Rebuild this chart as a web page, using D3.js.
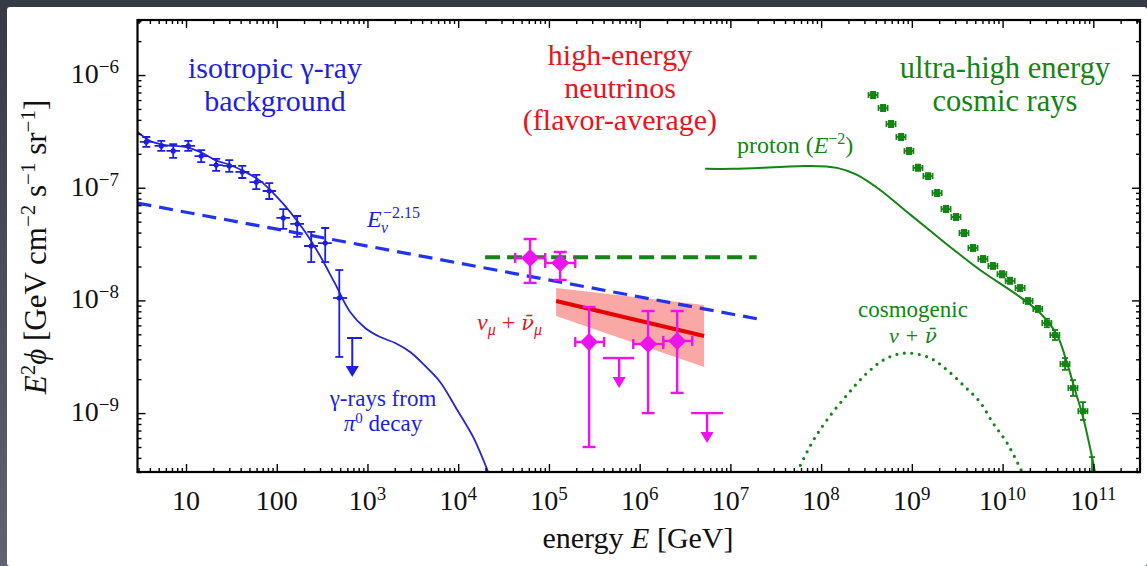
<!DOCTYPE html>
<html>
<head>
<meta charset="utf-8">
<script src="https://cdn.jsdelivr.net/npm/d3@7"></script>
<style>
  body { margin: 0; background: #fff; }
  svg { display: block; }
  text { font-family: "Liberation Serif", "Times New Roman", serif; }
  .bar { font-family: "DejaVu Serif", serif; }
</style>
</head>
<body>
<script>
// energies in GeV, fluxes as E^2 phi in GeV cm^-2 s^-1 sr^-1

// isotropic gamma-ray background points: [E, Elo, Ehi, flux, fluxLo, fluxHi]
var igrbPoints = [
  [3.65, 3.1, 4.3, 2.55e-7, 2.30e-7, 2.82e-7],
  [5.34, 4.5, 6.3, 2.35e-7, 2.12e-7, 2.60e-7],
  [7.23, 6.1, 8.6, 2.12e-7, 1.84e-7, 2.44e-7],
  [10.6, 8.9, 12.6, 2.35e-7, 2.12e-7, 2.60e-7],
  [14.7, 12.4, 17.5, 1.91e-7, 1.69e-7, 2.16e-7],
  [21.5, 18.0, 25.5, 1.59e-7, 1.41e-7, 1.80e-7],
  [30.0, 25.3, 35.6, 1.56e-7, 1.38e-7, 1.76e-7],
  [41.7, 35.0, 50.0, 1.38e-7, 1.22e-7, 1.56e-7],
  [59.5, 50.0, 71.0, 1.12e-7, 9.73e-8, 1.30e-7],
  [82.7, 70.0, 98.0, 9.35e-8, 7.94e-8, 1.10e-7],
  [118, 99, 140, 5.39e-8, 4.31e-8, 6.47e-8],
  [168, 141, 200, 4.77e-8, 3.66e-8, 5.61e-8],
  [240, 200, 285, 3.04e-8, 2.19e-8, 4.05e-8],
  [342, 285, 405, 3.23e-8, 2.19e-8, 4.39e-8],
  [489, 418, 596, 1.05e-8, 3.15e-9, 1.86e-8]
];
// upper limits: [E, Elo, Ehi, flux]
var igrbLimits = [[680, 596, 872, 4.64e-9]];

// gamma-rays from pi0 decay
var pionCurve = [
  [2.92, 3.12e-7], [4.04, 2.60e-7], [5.91, 2.39e-7], [9.81, 2.30e-7], [14.4, 2.07e-7],
  [21.0, 1.76e-7], [30.7, 1.59e-7], [45.0, 1.38e-7], [65.8, 1.15e-7], [96.2, 8.6e-8],
  [141, 6.08e-8], [206, 4.05e-8], [301, 2.48e-8], [441, 1.40e-8], [644, 7.89e-9],
  [944, 5.69e-9], [1380, 4.73e-9], [2020, 4.19e-9], [2960, 3.48e-9], [4320, 2.62e-9],
  [6320, 1.89e-9], [9730, 1.07e-9], [1.46e4, 6.14e-10], [2.14e4, 3.0e-10]
];

// E^-2.15 neutrino spectrum
var nuPowerLaw = [[2.92, 7.3e-8], [2.1e7, 6.8e-9]];
// flat green dashed bound
var flatBound = [[1.98e4, 2.42e-8], [1.95e7, 2.42e-8]];

// IceCube flavor-average points: [E, Elo, Ehi, flux, fluxLo, fluxHi]
var icPoints = [
  [6.2e4, 4.25e4, 9.1e4, 2.38e-8, 1.43e-8, 3.51e-8],
  [1.33e5, 9.1e4, 1.95e5, 2.15e-8, 1.52e-8, 2.69e-8],
  [2.77e5, 1.95e5, 4.06e5, 4.28e-9, 5.0e-10, 8.73e-9],
  [1.24e6, 8.5e5, 1.82e6, 4.1e-9, 1.0e-9, 8.05e-9],
  [2.59e6, 1.82e6, 3.8e6, 4.37e-9, 1.51e-9, 8.05e-9]
];
var icLimits = [
  [5.94e5, 3.95e5, 8.7e5, 3.08e-9],
  [5.53e6, 3.69e6, 8.3e6, 1.0e-9]
];

// nu_mu + anti-nu_mu fit: band [E, lo, hi] and best fit [E, flux]
var numuBand = [[1.2e5, 7.27e-9, 1.29e-8], [5.13e6, 2.57e-9, 9.1e-9]];
var numuFit = [[1.2e5, 9.88e-9], [5.13e6, 4.83e-9]];

// UHE proton model (E^-2 injection)
var protonCurve = [
  [5.27e6, 1.47e-7], [1.07e7, 1.47e-7], [3.53e7, 1.53e-7], [7.0e7, 1.56e-7],
  [1.5e8, 1.50e-7], [2.49e8, 1.30e-7], [4.47e8, 9.55e-8], [8.87e8, 6.08e-8],
  [1.71e9, 3.96e-8], [2.92e9, 2.80e-8], [5.65e9, 1.86e-8], [1.56e10, 1.07e-8],
  [2.59e10, 7.73e-9], [3.98e10, 4.93e-9], [5.13e10, 2.79e-9], [6.29e10, 1.60e-9],
  [7.7e10, 9.23e-10], [9.68e10, 4.07e-10], [1.04e11, 3.0e-10]
];

// cosmogenic neutrinos
var cosmoCurve = [
  [5.43e7, 3.0e-10], [8.13e7, 5.65e-10], [1.16e8, 8.69e-10], [1.93e8, 1.45e-9],
  [3.21e8, 2.27e-9], [5.33e8, 3.08e-9], [8.85e8, 3.41e-9], [1.59e9, 3.08e-9],
  [2.44e9, 2.41e-9], [3.85e9, 1.71e-9], [5.64e9, 1.25e-9], [7.84e9, 8.16e-10],
  [1.12e10, 5.43e-10], [1.64e10, 3.0e-10]
];

// UHECR data: [E, Elo, Ehi, flux, fluxLo, fluxHi]
var uhecrPoints = [
  [3.74e8, 3.33e8, 4.19e8, 6.65e-7, 6.25e-7, 7.08e-7],
  [4.82e8, 4.29e8, 5.40e8, 5.09e-7, 4.79e-7, 5.42e-7],
  [5.90e8, 5.25e8, 6.61e8, 3.67e-7, 3.45e-7, 3.91e-7],
  [7.60e8, 6.76e8, 8.51e8, 2.82e-7, 2.65e-7, 3.00e-7],
  [9.31e8, 8.29e8, 1.04e9, 2.12e-7, 1.99e-7, 2.26e-7],
  [1.17e9, 1.04e9, 1.31e9, 1.50e-7, 1.41e-7, 1.60e-7],
  [1.51e9, 1.34e9, 1.69e9, 1.27e-7, 1.19e-7, 1.35e-7],
  [1.90e9, 1.69e9, 2.13e9, 8.97e-8, 8.43e-8, 9.55e-8],
  [2.38e9, 2.12e9, 2.67e9, 6.47e-8, 6.08e-8, 6.89e-8],
  [3.07e9, 2.73e9, 3.44e9, 5.50e-8, 5.17e-8, 5.86e-8],
  [3.76e9, 3.35e9, 4.21e9, 3.96e-8, 3.72e-8, 4.22e-8],
  [4.72e9, 4.20e9, 5.29e9, 2.92e-8, 2.74e-8, 3.11e-8],
  [6.08e9, 5.41e9, 6.81e9, 2.33e-8, 2.19e-8, 2.48e-8],
  [7.83e9, 6.97e9, 8.77e9, 2.02e-8, 1.90e-8, 2.15e-8],
  [9.86e9, 8.78e9, 1.10e10, 1.71e-8, 1.60e-8, 1.82e-8],
  [1.21e10, 1.08e10, 1.36e10, 1.49e-8, 1.40e-8, 1.59e-8],
  [1.56e10, 1.39e10, 1.75e10, 1.29e-8, 1.21e-8, 1.37e-8],
  [1.91e10, 1.70e10, 2.14e10, 9.89e-9, 9.29e-9, 1.05e-8],
  [2.45e10, 2.18e10, 2.74e10, 8.39e-9, 7.88e-9, 8.94e-9],
  [3.08e10, 2.74e10, 3.45e10, 6.30e-9, 5.78e-9, 6.87e-9],
  [3.78e10, 3.36e10, 4.23e10, 4.93e-9, 4.45e-9, 5.46e-9],
  [4.88e10, 4.34e10, 5.47e10, 2.73e-9, 2.42e-9, 3.08e-9],
  [5.97e10, 5.31e10, 6.69e10, 1.67e-9, 1.42e-9, 1.96e-9],
  [7.69e10, 6.84e10, 8.61e10, 1.04e-9, 8.69e-10, 1.25e-9],
  [9.68e10, 8.62e10, 1.08e11, 2.08e-10, 1.0e-10, 4.07e-10]
];

// axis tick labels
var xTickExp = [1, 2, 3, 4, 5, 6, 7, 8, 9, 10, 11];
var yTickExp = [-6, -7, -8, -9];

var W = 1147, H = 566;
var plot = {left: 137.5, right: 1140, top: 20, bottom: 472};

var blue = "#1e1ee0", red = "#e8141e", green = "#148414", magenta = "#ee12ee";

var x = d3.scaleLog().domain([2.92, 3.27e11]).range([plot.left, plot.right]);
var y = d3.scaleLog().domain([3.0e-10, 3.08e-6]).range([plot.bottom, plot.top]);

var svg = d3.select("body").append("svg")
    .attr("width", W)
    .attr("height", H)
    .attr("font-family", "Liberation Serif, Times New Roman, serif");

// dark frame of the screenshot
var grad = svg.append("defs").append("linearGradient")
    .attr("id", "bg").attr("x1", 0).attr("y1", 0).attr("x2", 0).attr("y2", 1);
grad.append("stop").attr("offset", "0%").attr("stop-color", "#363a45");
grad.append("stop").attr("offset", "100%").attr("stop-color", "#60646e");
svg.append("rect").attr("width", W).attr("height", H).attr("fill", "url(#bg)");
svg.append("rect").attr("x", 7).attr("y", 7).attr("width", W - 7).attr("height", H - 7)
    .attr("rx", 3).attr("fill", "#fff");

svg.select("defs").append("clipPath").attr("id", "clip")
  .append("rect")
    .attr("x", plot.left).attr("y", plot.top)
    .attr("width", plot.right - plot.left).attr("height", plot.bottom - plot.top);

var g = svg.append("g").attr("clip-path", "url(#clip)");

var line = d3.line()
    .x(function(d) { return x(d[0]); })
    .y(function(d) { return y(d[1]); });
var smooth = d3.line()
    .x(function(d) { return x(d[0]); })
    .y(function(d) { return y(d[1]); })
    .curve(d3.curveCatmullRom.alpha(0.5));

// nu_mu band and fit
var area = d3.area()
    .x(function(d) { return x(d[0]); })
    .y0(function(d) { return y(d[1]); })
    .y1(function(d) { return y(d[2]); });
g.append("path").datum(numuBand).attr("d", area).attr("fill", "#f9a8a6");
g.append("path").datum(numuFit).attr("d", line)
    .attr("fill", "none").attr("stroke", "#e80000").attr("stroke-width", 4);

// dashed lines
g.append("path").datum(nuPowerLaw).attr("d", line)
    .attr("fill", "none").attr("stroke", "#2233ee").attr("stroke-width", 3.2)
    .attr("stroke-dasharray", "14,8");
g.append("path").datum(flatBound).attr("d", line)
    .attr("fill", "none").attr("stroke", green).attr("stroke-width", 4)
    .attr("stroke-dasharray", "15,7");

// model curves
g.append("path").datum(pionCurve).attr("d", smooth)
    .attr("fill", "none").attr("stroke", "#2424d0").attr("stroke-width", 1.8);
g.append("path").datum(protonCurve).attr("d", smooth)
    .attr("fill", "none").attr("stroke", green).attr("stroke-width", 2);
g.append("path").datum(cosmoCurve).attr("d", smooth)
    .attr("fill", "none").attr("stroke", green).attr("stroke-width", 3.2)
    .attr("stroke-linecap", "round").attr("stroke-dasharray", "0,7.5");

// error bar helper
function errorBars(data, color, width, cap, hcap) {
  var eb = g.append("g").attr("stroke", color).attr("stroke-width", width).attr("fill", "none");
  data.forEach(function(d) {
    var cx = x(d[0]), cy = y(d[3]);
    eb.append("line").attr("x1", x(d[1])).attr("x2", x(d[2])).attr("y1", cy).attr("y2", cy);
    eb.append("line").attr("x1", cx).attr("x2", cx).attr("y1", y(d[4])).attr("y2", y(d[5]));
    [d[4], d[5]].forEach(function(v) {
      eb.append("line").attr("x1", cx - cap).attr("x2", cx + cap).attr("y1", y(v)).attr("y2", y(v));
    });
    if (hcap) {
      [d[1], d[2]].forEach(function(v) {
        eb.append("line").attr("x1", x(v)).attr("x2", x(v)).attr("y1", cy - hcap).attr("y2", cy + hcap);
      });
    }
  });
}
function upperLimits(data, color, width, drop, head) {
  var ul = g.append("g").attr("stroke", color).attr("stroke-width", width).attr("fill", color);
  data.forEach(function(d) {
    var cx = x(d[0]), cy = y(d[3]);
    ul.append("line").attr("x1", x(d[1])).attr("x2", x(d[2])).attr("y1", cy).attr("y2", cy);
    ul.append("line").attr("x1", cx).attr("x2", cx).attr("y1", cy).attr("y2", cy + drop - head);
    ul.append("path").attr("stroke", "none")
      .attr("d", "M" + (cx - head * 0.6) + "," + (cy + drop - head) + "L" + (cx + head * 0.6) + "," +
        (cy + drop - head) + "L" + cx + "," + (cy + drop) + "Z");
  });
}

// gamma-ray data
errorBars(igrbPoints, blue, 1.8, 4, 0);
g.append("g").selectAll("circle").data(igrbPoints).enter().append("circle")
    .attr("cx", function(d) { return x(d[0]); })
    .attr("cy", function(d) { return y(d[3]); })
    .attr("r", 2.6).attr("fill", blue);
upperLimits(igrbLimits, blue, 2, 39, 11);

// neutrino data
errorBars(icPoints, magenta, 2.4, 6.5, 5);
g.append("g").selectAll("path").data(icPoints).enter().append("path")
    .attr("transform", function(d) { return "translate(" + x(d[0]) + "," + y(d[3]) + ")"; })
    .attr("d", "M0,-9L9,0L0,9L-9,0Z").attr("fill", magenta);
upperLimits(icLimits, magenta, 2.4, 30, 11);

// cosmic ray data
errorBars(uhecrPoints, green, 1.8, 3, 3);
g.append("g").selectAll("rect").data(uhecrPoints).enter().append("rect")
    .attr("x", function(d) { return x(d[0]) - 3; })
    .attr("y", function(d) { return y(d[3]) - 3; })
    .attr("width", 6).attr("height", 6).attr("fill", green);

// axes: ticks point inward on all four sides
function isDecade(v) { var l = Math.log10(v); return Math.abs(l - Math.round(l)) < 1e-6; }
var majorX = x.ticks(20).filter(isDecade);
var minorX = x.ticks(20).filter(function(v) { return !isDecade(v); });
var majorY = y.ticks(20).filter(isDecade);
var minorY = y.ticks(20).filter(function(v) { return !isDecade(v); });

function styleAxis(sel) {
  sel.select(".domain").remove();
  sel.selectAll(".tick line").attr("stroke", "#000").attr("stroke-width", 1.4);
  sel.selectAll(".tick text").remove();
}
[[minorX, 4], [majorX, 8]].forEach(function(t) {
  svg.append("g").attr("transform", "translate(0," + plot.bottom + ")")
    .call(d3.axisBottom(x).tickValues(t[0]).tickSize(-t[1]).tickFormat("")).call(styleAxis);
  svg.append("g").attr("transform", "translate(0," + plot.top + ")")
    .call(d3.axisTop(x).tickValues(t[0]).tickSize(-t[1]).tickFormat("")).call(styleAxis);
});
[[minorY, 4], [majorY, 8]].forEach(function(t) {
  svg.append("g").attr("transform", "translate(" + plot.left + ",0)")
    .call(d3.axisLeft(y).tickValues(t[0]).tickSize(-t[1]).tickFormat("")).call(styleAxis);
  svg.append("g").attr("transform", "translate(" + plot.right + ",0)")
    .call(d3.axisRight(y).tickValues(t[0]).tickSize(-t[1]).tickFormat("")).call(styleAxis);
});
svg.append("rect")
    .attr("x", plot.left).attr("y", plot.top)
    .attr("width", plot.right - plot.left).attr("height", plot.bottom - plot.top)
    .attr("fill", "none").attr("stroke", "#000").attr("stroke-width", 2.2);

// tick labels
var xl = svg.append("g").attr("font-size", 28).attr("fill", "#111").attr("text-anchor", "middle");
xTickExp.forEach(function(e) {
  var t = xl.append("text").attr("x", x(Math.pow(10, e))).attr("y", 510);
  if (e === 1) t.text("10");
  else if (e === 2) t.text("100");
  else {
    t.append("tspan").text("10");
    t.append("tspan").attr("font-size", 19).attr("dy", -10).text(e);
  }
});
var yl = svg.append("g").attr("font-size", 28).attr("fill", "#111").attr("text-anchor", "end");
yTickExp.forEach(function(e) {
  var t = yl.append("text").attr("x", 119).attr("y", y(Math.pow(10, e)) + 8);
  t.append("tspan").text("10");
  t.append("tspan").attr("font-size", 19).attr("dy", -10).text("\u2212" + (-e));
});

// axis titles
var xt = svg.append("text").attr("x", 638).attr("y", 548).attr("font-size", 30)
    .attr("text-anchor", "middle").attr("fill", "#111");
xt.append("tspan").text("energy ");
xt.append("tspan").attr("font-style", "italic").text("E");
xt.append("tspan").text(" [GeV]");

var yt = svg.append("text").attr("transform", "translate(46,247) rotate(-90)")
    .attr("font-size", 31).attr("text-anchor", "middle").attr("fill", "#111");
yt.append("tspan").attr("font-style", "italic").text("E");
yt.append("tspan").attr("font-size", 21).attr("dy", -11).text("2");
yt.append("tspan").attr("font-style", "italic").attr("dy", 11).text("\u03d5");
yt.append("tspan").text(" [GeV cm");
yt.append("tspan").attr("font-size", 21).attr("dy", -11).text("\u22122");
yt.append("tspan").attr("dy", 11).text(" s");
yt.append("tspan").attr("font-size", 21).attr("dy", -11).text("\u22121");
yt.append("tspan").attr("dy", 11).text(" sr");
yt.append("tspan").attr("font-size", 21).attr("dy", -11).text("\u22121");
yt.append("tspan").attr("dy", 11).text("]");

// annotations
function label(lines, cx, y0, step, size, color) {
  var t = svg.append("text").attr("font-size", size).attr("fill", color).attr("text-anchor", "middle");
  lines.forEach(function(s, i) {
    t.append("tspan").attr("x", cx).attr("y", y0 + i * step).text(s);
  });
  return t;
}
label(["isotropic \u03b3-ray", "background"], 275, 78, 33, 30, blue);
label(["high-energy", "neutrinos", "(flavor-average)"], 620, 65, 32.5, 30, red);
label(["ultra-high energy", "cosmic rays"], 1005, 78, 33, 30.5, green);
label(["\u03b3-rays from"], 383, 406, 23, 23, blue);

var pi = svg.append("text").attr("x", 383).attr("y", 431).attr("font-size", 23)
    .attr("fill", blue).attr("text-anchor", "middle");
pi.append("tspan").attr("font-style", "italic").text("\u03c0");
pi.append("tspan").attr("font-size", 15).attr("dy", -8).text("0");
pi.append("tspan").attr("dy", 8).text(" decay");

var pr = svg.append("text").attr("x", 737).attr("y", 153).attr("font-size", 24).attr("fill", green);
pr.append("tspan").text("proton (");
pr.append("tspan").attr("font-style", "italic").text("E");
pr.append("tspan").attr("font-size", 16).attr("dy", -9).text("\u22122");
pr.append("tspan").attr("dy", 9).text(")");

label(["cosmogenic"], 913, 317, 24, 23, green);
var cg = svg.append("text").attr("x", 913).attr("y", 343).attr("font-size", 22)
    .attr("fill", green).attr("text-anchor", "middle").attr("font-style", "italic");
cg.append("tspan").text("\u03bd + ");
cg.append("tspan").attr("class", "bar").attr("font-size", 20).text("\u03bd\u0304");

var el = svg.append("text").attr("font-size", 24).attr("fill", blue).attr("font-style", "italic");
el.append("tspan").attr("x", 367).attr("y", 227).text("E");
el.append("tspan").attr("x", 381).attr("y", 233).attr("font-size", 16).text("\u03bd");
el.append("tspan").attr("x", 383).attr("y", 218).attr("font-size", 16).attr("font-style", "normal").text("\u22122.15");

var nm = svg.append("text").attr("y", 330).attr("font-size", 24).attr("fill", red).attr("font-style", "italic");
nm.append("tspan").attr("x", 477).text("\u03bd");
nm.append("tspan").attr("font-size", 16).attr("dy", 5).text("\u03bc");
nm.append("tspan").attr("dy", -5).attr("font-style", "normal").text(" + ");
nm.append("tspan").attr("class", "bar").attr("font-size", 21).text("\u03bd\u0304");
nm.append("tspan").attr("font-size", 16).attr("dy", 5).text("\u03bc");
</script>
</body>
</html>
